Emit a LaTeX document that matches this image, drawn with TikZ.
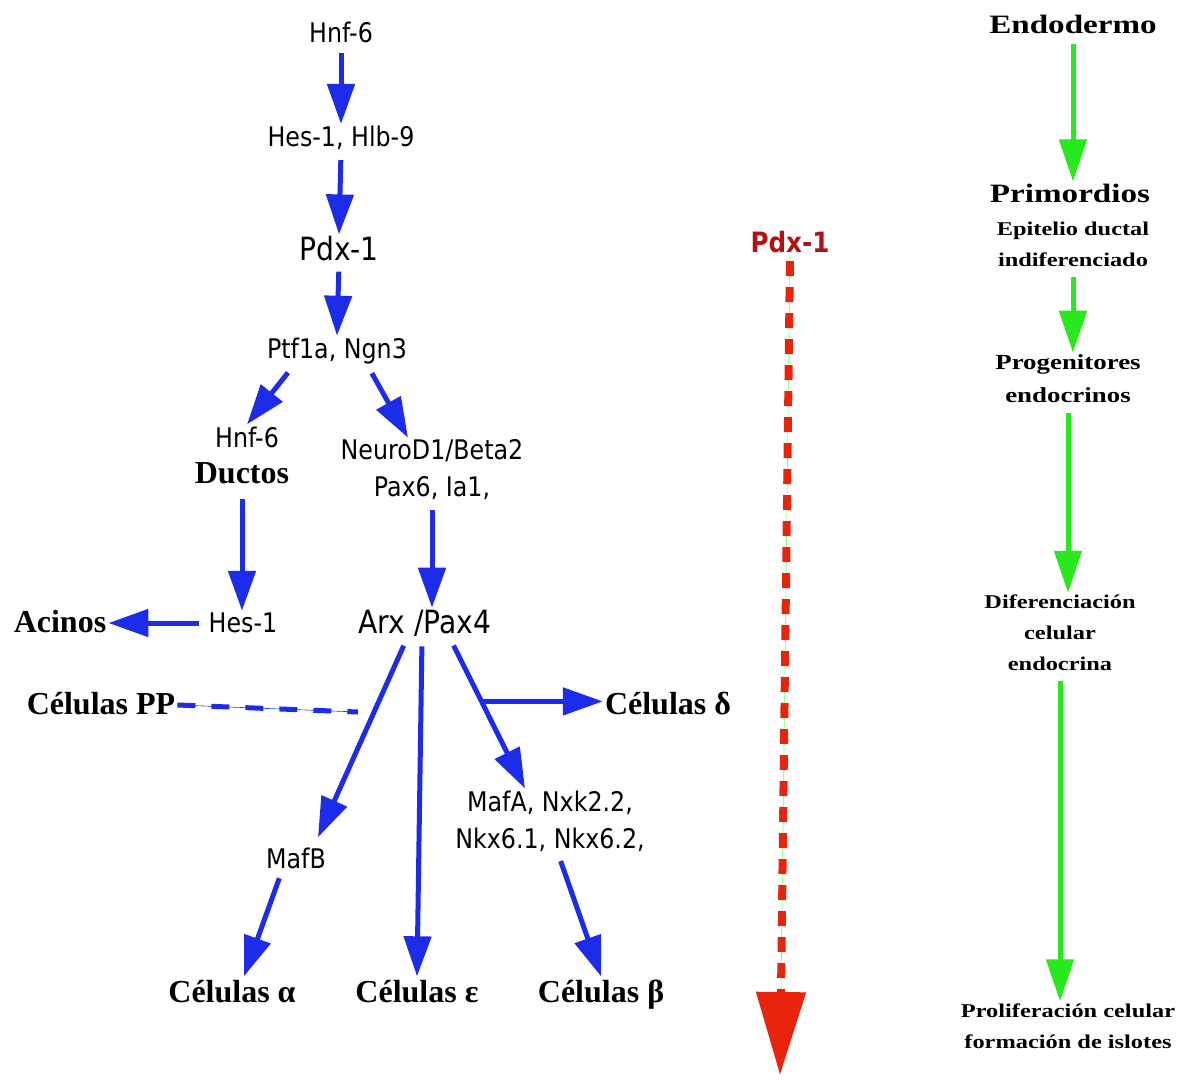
\documentclass[tikz,border=0pt]{standalone}
\usepackage{fontspec}
\setmainfont{DejaVu Sans}[FakeStretch=0.88]
\newfontfamily\genefont{DejaVu Sans}[FakeStretch=0.88]
\newfontfamily\cellfont{Liberation Serif}
\newfontfamily\stagefont{Liberation Serif}[FakeStretch=1.25]
\usetikzlibrary{positioning,arrows.meta,calc}

\definecolor{arrblue}{RGB}{28,44,232}
\definecolor{stagegreen}{RGB}{40,232,30}
\definecolor{pdxred}{RGB}{232,36,12}
\definecolor{pdxdark}{RGB}{178,18,18}

\begin{document}
\begin{tikzpicture}[
  x=1pt, y=-1pt,
  every node/.style={inner sep=2pt, align=center},
  gene/.style    ={font=\genefont\fontsize{27}{37}\selectfont},
  biggene/.style ={font=\genefont\fontsize{32}{36}\selectfont},
  redgene/.style ={font=\genefont\bfseries\fontsize{28}{32}\selectfont, text=pdxdark},
  cell/.style    ={font=\cellfont\bfseries\fontsize{32}{36}\selectfont,
                   text height=24pt, text depth=5pt},
  stage/.style   ={font=\stagefont\bfseries\fontsize{26.5}{30}\selectfont},
  substage/.style={font=\stagefont\bfseries\fontsize{19.5}{31}\selectfont},
  arr/.style ={-{Triangle[length=40pt,width=27pt]}, line width=5pt,
               arrblue, shorten <=8pt},
  garr/.style={-{Triangle[length=42pt,width=27pt]}, line width=5pt,
               stagegreen, shorten <=8pt},
  ppline/.style={arrblue, line width=5pt, dash pattern=on 18pt off 16pt}
]
\useasboundingbox (0,0) rectangle (1180,1079);

%% --- Upper chain -------------------------------------------
\node[gene]    (hnf6) at (341,32)  {Hnf-6};
\node[gene]    (hes)  at (341,138) {Hes-1, Hlb-9};
\node[biggene] (pdx)  at (339,249) {Pdx-1};
\node[gene]    (ptf)  at (337,351) {Ptf1a, Ngn3};

\draw[arr] (hnf6.south) -- (hes.north);
\draw[arr] (hes.south)  -- (pdx.north);
\draw[arr] (pdx.south)  -- (ptf.north);

%% --- Ductal branch -----------------------------------------
\node[gene] (hnfb)   at (247,437) {Hnf-6};
\node[cell] (ductos) at (242,474) {Ductos};
\node[gene] (hesb)   at (243,623) {Hes-1};
\node[cell] (acinos) at (60,623)  {Acinos};

\draw[arr] ([xshift=-44pt]ptf.south) -- (hnfb.north);
\draw[arr] (ductos.south) -- (ductos.south |- hesb.north);
\draw[arr] (hesb.west)    -- (acinos.east);

%% --- Endocrine branch --------------------------------------
\node[gene]    (neuro) at (432,470) {NeuroD1/Beta2\\Pax6, Ia1,};
\node[biggene] (arx)   at (425,623) {Arx /Pax4};

\draw[arr] ([xshift=31pt]ptf.south) -- ([xshift=-24pt]neuro.north);
\draw[arr] (neuro.south) -- (neuro.south |- arx.north);

%% --- Cell types --------------------------------------------
\node[cell] (pp)    at (101,705) {Células PP};
\node[cell] (delta) at (668,705) {Células δ};
\node[gene] (maf)   at (550,821) {MafA, Nxk2.2,\\Nkx6.1, Nkx6.2,};
\node[gene] (mafb)  at (296,858) {MafB};
\node[cell] (alpha) at (232,993) {Células α};
\node[cell] (eps)   at (417,993) {Células ε};
\node[cell] (beta)  at (601,993) {Células β};

\coordinate (ppend) at (358,712);
\draw[arrblue, line width=0.6pt] (pp.east) -- (ppend);
\draw[ppline] (pp.east) -- (ppend);

\draw[arr] ([xshift=-18pt]arx.south) -- ([xshift=22pt,yshift=8pt]mafb.north);
\draw[arr] ([xshift=-3pt]arx.south)  -- (eps.north);
\draw[arr] ([xshift=25pt]arx.south)  -- ([xshift=-25pt]maf.north);
\coordinate (dbranch) at ($([xshift=25pt]arx.south)!0.42!([xshift=-25pt]maf.north)$);
\draw[arr, shorten <=0pt] (dbranch) -- (dbranch -| delta.west);

\draw[arr] ([xshift=-14pt]mafb.south) -- ([xshift=12pt]alpha.north);
\draw[arr] ([xshift=8pt]maf.south)    -- (beta.north);

%% --- Pdx-1 gradient ----------------------------------------
\node[redgene] (pdxr) at (790,242) {Pdx-1};
\coordinate (pdxend) at (780,1075);
\draw[green!55!white, line width=0.6pt] (pdxr.south) -- (pdxend);
\draw[pdxred, line width=8pt, dash pattern=on 15pt off 11pt,
      -{Triangle[length=83pt,width=48pt]}, shorten <=6pt]
     (pdxr.south) -- (pdxend);

%% --- Stages ------------------------------------------------
\node[stage]    (endo) at (1073,24)   {Endodermo};
\node[stage]    (prim) at (1070,193)  {Primordios};
\node[substage] (epit) at (1073,244)  {Epitelio ductal\\indiferenciado};
\node[substage, font=\stagefont\bfseries\fontsize{21.5}{33}\selectfont]
                (prog) at (1068,379)  {Progenitores\\endocrinos};
\node[substage] (dif)  at (1060,633)  {Diferenciación\\celular\\endocrina};
\node[substage] (prol) at (1068,1026) {Proliferación celular\\formación de islotes};

\draw[garr] (endo.south) -- (endo.south |- prim.north);
\draw[garr] (epit.south) -- (epit.south |- prog.north);
\draw[garr] (prog.south) -- (prog.south |- dif.north);
\draw[garr] (dif.south)  -- (dif.south |- prol.north);

\end{tikzpicture}
\end{document}
